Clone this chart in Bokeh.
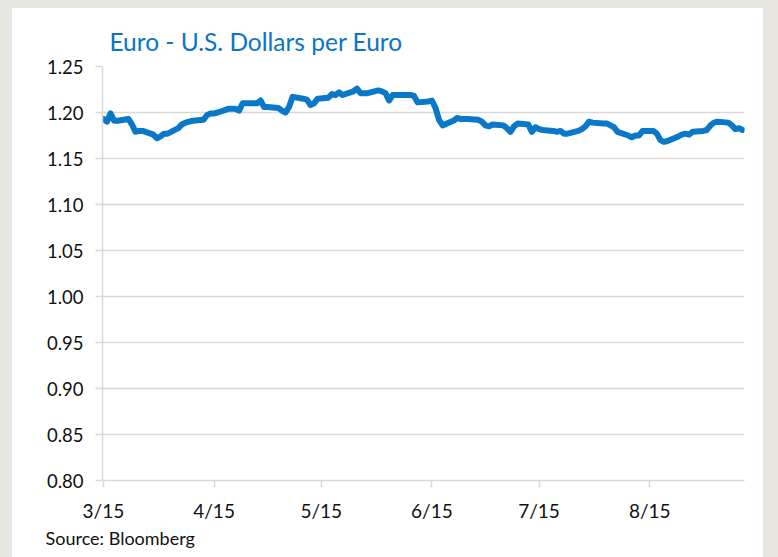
import pandas as pd
from bokeh.plotting import figure
from bokeh.layouts import column, row
from bokeh.models import (FixedTicker, Range1d, Title, Div,
                          NumeralTickFormatter, ColumnDataSource)
from bokeh.embed import file_html
from bokeh.resources import INLINE

# ---- data ----
dates = [
    "2021-03-15", "2021-03-16", "2021-03-17", "2021-03-18", "2021-03-19",
    "2021-03-22", "2021-03-23", "2021-03-24", "2021-03-25", "2021-03-26",
    "2021-03-29", "2021-03-30", "2021-03-31", "2021-04-01", "2021-04-02",
    "2021-04-05", "2021-04-06", "2021-04-07", "2021-04-08", "2021-04-09",
    "2021-04-12", "2021-04-13", "2021-04-14", "2021-04-15", "2021-04-16",
    "2021-04-19", "2021-04-20", "2021-04-21", "2021-04-22", "2021-04-23",
    "2021-04-26", "2021-04-27", "2021-04-28", "2021-04-29", "2021-04-30",
    "2021-05-03", "2021-05-04", "2021-05-05", "2021-05-06", "2021-05-07",
    "2021-05-10", "2021-05-11", "2021-05-12", "2021-05-13", "2021-05-14",
    "2021-05-17", "2021-05-18", "2021-05-19", "2021-05-20", "2021-05-21",
    "2021-05-24", "2021-05-25", "2021-05-26", "2021-05-27", "2021-05-28",
    "2021-05-31", "2021-06-01", "2021-06-02", "2021-06-03", "2021-06-04",
    "2021-06-07", "2021-06-08", "2021-06-09", "2021-06-10", "2021-06-11",
    "2021-06-14", "2021-06-15", "2021-06-16", "2021-06-17", "2021-06-18",
    "2021-06-21", "2021-06-22", "2021-06-23", "2021-06-24", "2021-06-25",
    "2021-06-28", "2021-06-29", "2021-06-30", "2021-07-01", "2021-07-02",
    "2021-07-05", "2021-07-06", "2021-07-07", "2021-07-08", "2021-07-09",
    "2021-07-12", "2021-07-13", "2021-07-14", "2021-07-15", "2021-07-16",
    "2021-07-19", "2021-07-20", "2021-07-21", "2021-07-22", "2021-07-23",
    "2021-07-26", "2021-07-27", "2021-07-28", "2021-07-29", "2021-07-30",
    "2021-08-02", "2021-08-03", "2021-08-04", "2021-08-05", "2021-08-06",
    "2021-08-09", "2021-08-10", "2021-08-11", "2021-08-12", "2021-08-13",
    "2021-08-16", "2021-08-17", "2021-08-18", "2021-08-19", "2021-08-20",
    "2021-08-23", "2021-08-24", "2021-08-25", "2021-08-26", "2021-08-27",
    "2021-08-30", "2021-08-31", "2021-09-01", "2021-09-02", "2021-09-03",
    "2021-09-06", "2021-09-07", "2021-09-08", "2021-09-09", "2021-09-10",
]
usd_per_euro = [
    1.193, 1.190, 1.199, 1.191, 1.191,
    1.193, 1.187, 1.179, 1.180, 1.180,
    1.176, 1.172, 1.174, 1.177, 1.177,
    1.183, 1.187, 1.189, 1.190, 1.191,
    1.192, 1.197, 1.199, 1.199, 1.200,
    1.204, 1.204, 1.204, 1.202, 1.210,
    1.210, 1.210, 1.213, 1.206, 1.206,
    1.205, 1.202, 1.200, 1.206, 1.217,
    1.215, 1.214, 1.208, 1.210, 1.215,
    1.216, 1.220, 1.219, 1.222, 1.219,
    1.223, 1.226, 1.221, 1.221, 1.221,
    1.224, 1.223, 1.221, 1.213, 1.219,
    1.219, 1.219, 1.219, 1.218, 1.211,
    1.212, 1.213, 1.205, 1.192, 1.186,
    1.191, 1.194, 1.193, 1.193, 1.193,
    1.192, 1.190, 1.186, 1.185, 1.187,
    1.186, 1.183, 1.179, 1.185, 1.188,
    1.187, 1.179, 1.184, 1.182, 1.181,
    1.180, 1.179, 1.180, 1.177, 1.177,
    1.180, 1.182, 1.185, 1.190, 1.189,
    1.188, 1.188, 1.186, 1.184, 1.179,
    1.175, 1.173, 1.175, 1.175, 1.180,
    1.180, 1.177, 1.170, 1.168, 1.169,
    1.174, 1.176, 1.177, 1.176, 1.179,
    1.180, 1.181, 1.186, 1.189, 1.190,
    1.189, 1.186, 1.182, 1.183, 1.181,
]
x_tick_dates = ["2021-03-15", "2021-04-15", "2021-05-15",
                "2021-06-15", "2021-07-15", "2021-08-15"]
x_tick_labels = ["3/15", "4/15", "5/15", "6/15", "7/15", "8/15"]
y_ticks = [0.80, 0.85, 0.90, 0.95, 1.00, 1.05, 1.10, 1.15, 1.20, 1.25]

title_text = "Euro - U.S. Dollars per Euro"
source_text = "Source: Bloomberg"

# ---- styling ----
FONT = "Lato"
LINE_BLUE = "#0A78C8"
TITLE_BLUE = "#0B74C6"
GRID = "#D9D9D9"
FRAME_GRAY = "#E8E6E1"
TEXT = "#111111"

W, H = 751, 549

src = ColumnDataSource(dict(date=pd.to_datetime(dates), rate=usd_per_euro))


def ms(d):
    return float(pd.Timestamp(d).value // 10**6)


p = figure(width=W, height=H, output_backend="svg", toolbar_location=None,
           x_axis_type="datetime",
           x_range=Range1d(pd.Timestamp("2021-03-14 18:00"),
                           pd.Timestamp("2021-09-10 13:00")),
           y_range=Range1d(0.80, 1.25),
           min_border_left=90, min_border_right=19,
           min_border_top=58, min_border_bottom=77)

p.outline_line_color = None
p.background_fill_color = "white"
p.border_fill_color = "white"

p.title.text = title_text
p.title.text_font = FONT
p.title.text_font_size = "24.5px"
p.title.text_font_style = "normal"
p.title.text_color = TITLE_BLUE
p.title.offset = 7
p.title.standoff = 21

# x axis
p.xaxis.ticker = FixedTicker(ticks=[ms(d) for d in x_tick_dates])
p.xaxis.major_label_overrides = {ms(d): lab for d, lab in zip(x_tick_dates, x_tick_labels)}
p.xaxis.minor_tick_line_color = None
p.xaxis.major_tick_in = 0
p.xaxis.major_tick_out = 7
p.xaxis.major_tick_line_color = GRID
p.xaxis.major_tick_line_width = 1.5
p.xaxis.axis_line_color = GRID
p.xaxis.axis_line_width = 1.5
p.xaxis.major_label_text_font = FONT
p.xaxis.major_label_text_font_size = "19px"
p.xaxis.major_label_text_color = TEXT
p.xaxis.major_label_standoff = 11

# y axis
p.yaxis.ticker = FixedTicker(ticks=y_ticks)
p.yaxis.formatter = NumeralTickFormatter(format="0.00")
p.yaxis.minor_tick_line_color = None
p.yaxis.major_tick_in = 0
p.yaxis.major_tick_out = 7
p.yaxis.major_tick_line_color = GRID
p.yaxis.major_tick_line_width = 1.5
p.yaxis.axis_line_color = GRID
p.yaxis.axis_line_width = 1.5
p.yaxis.major_label_text_font = FONT
p.yaxis.major_label_text_font_size = "18.5px"
p.yaxis.major_label_text_color = TEXT
p.yaxis.major_label_standoff = 12

p.xgrid.grid_line_color = None
p.ygrid.grid_line_color = GRID
p.ygrid.grid_line_width = 1.5

p.line(x="date", y="rate", source=src, line_width=6, line_color=LINE_BLUE,
       line_join="round", line_cap="round")

# source note below the axis
p.add_layout(Title(text=source_text, align="left", offset=-57, standoff=1,
                   text_font=FONT, text_font_size="18px",
                   text_font_style="normal", text_color=TEXT), "below")

# light gray outer frame around the white panel
frame_style = {"background-color": FRAME_GRAY}
top_strip = Div(width=778, height=8, margin=0, styles=frame_style)
left_strip = Div(width=12, height=H, margin=0, styles=frame_style)
right_strip = Div(width=15, height=H, margin=0, styles=frame_style)

layout = column(top_strip, row(left_strip, p, right_strip, spacing=0), spacing=0)

open("out.html", "w").write(file_html(layout, INLINE))
